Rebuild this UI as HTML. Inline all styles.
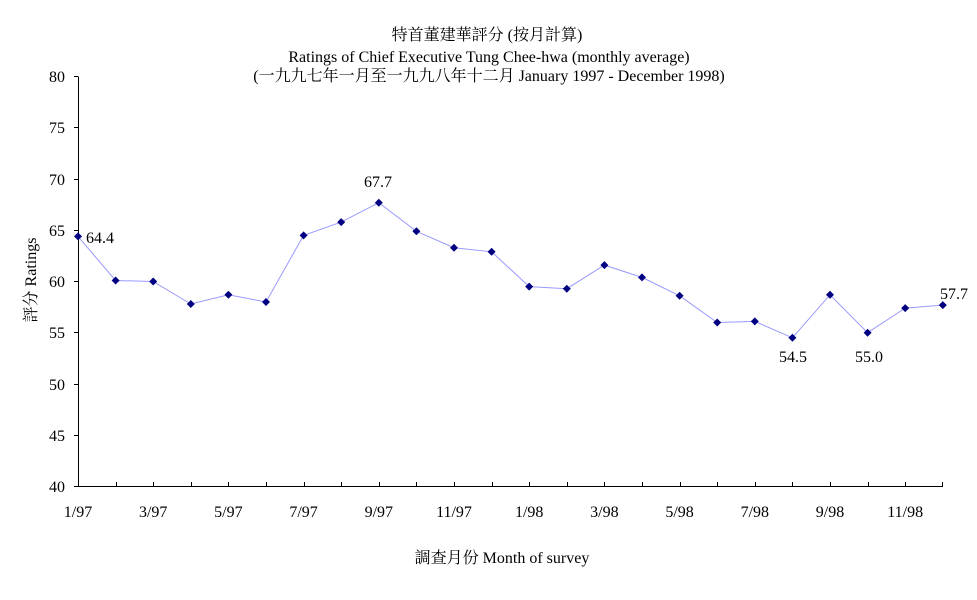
<!DOCTYPE html>
<html><head><meta charset="utf-8"><style>
html,body{margin:0;padding:0;background:#fff;}
svg{display:block;}
text{font-family:"Liberation Serif","Noto Serif CJK SC","Noto Sans CJK TC",serif;font-size:16px;fill:#000;}
</style></head><body>
<svg width="977" height="600" viewBox="0 0 977 600" xmlns="http://www.w3.org/2000/svg">
<rect width="977" height="600" fill="#fff"/>
<text x="487" y="40" text-anchor="middle">特首董建華評分 (按月計算)</text>
<text x="489" y="62" text-anchor="middle">Ratings of Chief Executive Tung Chee-hwa (monthly average)</text>
<text x="489" y="81" text-anchor="middle">(一九九七年一月至一九九八年十二月 January 1997 - December 1998)</text>

<g stroke="#000" stroke-width="1" fill="none" shape-rendering="crispEdges">
<line x1="78.5" y1="76.5" x2="78.5" y2="486.5"/>
<line x1="78" y1="486.5" x2="943" y2="486.5"/>
<path d="M74 76.5H78M74 127.5H78M74 179.5H78M74 230.5H78M74 281.5H78M74 332.5H78M74 384.5H78M74 435.5H78M74 486.5H78"/>
<path d="M116.5 482V486M153.5 482V486M191.5 482V486M228.5 482V486M266.5 482V486M304.5 482V486M341.5 482V486M379.5 482V486M416.5 482V486M454.5 482V486M492.5 482V486M529.5 482V486M567.5 482V486M604.5 482V486M642.5 482V486M680.5 482V486M717.5 482V486M755.5 482V486M792.5 482V486M830.5 482V486M868.5 482V486M905.5 482V486M942.5 482V486"/>
</g>

<g text-anchor="end">
<text x="65" y="82">80</text>
<text x="65" y="133">75</text>
<text x="65" y="185">70</text>
<text x="65" y="236">65</text>
<text x="65" y="287">60</text>
<text x="65" y="338">55</text>
<text x="65" y="390">50</text>
<text x="65" y="441">45</text>
<text x="65" y="492">40</text>
</g>

<g text-anchor="middle">
<text x="78" y="517">1/97</text>
<text x="153.2" y="517">3/97</text>
<text x="228.4" y="517">5/97</text>
<text x="303.6" y="517">7/97</text>
<text x="378.8" y="517">9/97</text>
<text x="454" y="517">11/97</text>
<text x="529.2" y="517">1/98</text>
<text x="604.4" y="517">3/98</text>
<text x="679.6" y="517">5/98</text>
<text x="754.8" y="517">7/98</text>
<text x="830" y="517">9/98</text>
<text x="905.2" y="517">11/98</text>
</g>

<text x="502" y="563" text-anchor="middle">調查月份 Month of survey</text>
<text x="36" y="280" text-anchor="middle" transform="rotate(-90 36 280)">評分 Ratings</text>

<polyline fill="none" stroke="#9999ff" stroke-width="1" points="78.0,236.4 115.6,280.5 153.2,281.5 190.8,304.0 228.4,294.8 266.0,302.0 303.6,235.4 341.2,222.1 378.8,202.7 416.4,231.3 454.0,247.7 491.6,251.8 529.2,286.6 566.8,288.7 604.4,265.1 642.0,277.4 679.6,295.8 717.2,322.5 754.8,321.4 792.4,337.8 830.0,294.8 867.6,332.7 905.2,308.1 942.8,305.1"/>

<path fill="#000080" d="
M78.0,232.4l4,4l-4,4l-4,-4z
M115.6,276.5l4,4l-4,4l-4,-4z
M153.2,277.5l4,4l-4,4l-4,-4z
M190.8,300.0l4,4l-4,4l-4,-4z
M228.4,290.8l4,4l-4,4l-4,-4z
M266.0,298.0l4,4l-4,4l-4,-4z
M303.6,231.4l4,4l-4,4l-4,-4z
M341.2,218.1l4,4l-4,4l-4,-4z
M378.8,198.7l4,4l-4,4l-4,-4z
M416.4,227.3l4,4l-4,4l-4,-4z
M454.0,243.7l4,4l-4,4l-4,-4z
M491.6,247.8l4,4l-4,4l-4,-4z
M529.2,282.6l4,4l-4,4l-4,-4z
M566.8,284.7l4,4l-4,4l-4,-4z
M604.4,261.1l4,4l-4,4l-4,-4z
M642.0,273.4l4,4l-4,4l-4,-4z
M679.6,291.8l4,4l-4,4l-4,-4z
M717.2,318.5l4,4l-4,4l-4,-4z
M754.8,317.4l4,4l-4,4l-4,-4z
M792.4,333.8l4,4l-4,4l-4,-4z
M830.0,290.8l4,4l-4,4l-4,-4z
M867.6,328.7l4,4l-4,4l-4,-4z
M905.2,304.1l4,4l-4,4l-4,-4z
M942.8,301.1l4,4l-4,4l-4,-4z"/>

<text x="86" y="243">64.4</text>
<text x="378" y="187" text-anchor="middle">67.7</text>
<text x="793" y="362" text-anchor="middle">54.5</text>
<text x="869" y="362" text-anchor="middle">55.0</text>
<text x="940" y="299">57.7</text>
</svg>
</body></html>
